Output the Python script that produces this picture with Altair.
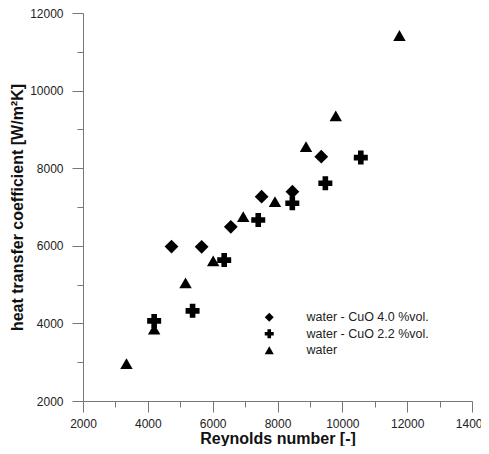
import altair as alt
import pandas as pd

series_names = ["water - CuO 4.0 %vol.", "water - CuO 2.2 %vol.", "water"]
series_shapes = ["diamond", "cross", "triangle-up"]
series_sizes = [190, 196, 155]

cuo40_re = [4730, 5660, 6560, 7510, 8460, 9350]
cuo40_h = [5980, 5975, 6490, 7266, 7395, 8298]

cuo22_re = [4195, 5380, 6356, 7406, 8457, 9476, 10570]
cuo22_h = [4065, 4323, 5632, 6664, 7095, 7612, 8273]

water_re = [3341, 4195, 5163, 6016, 6943, 7922, 8880, 9797, 11762]
water_h = [2965, 3851, 5046, 5614, 6750, 7137, 8557, 9349, 11420]

x_ticks = list(range(2000, 14001, 1000))
y_ticks = list(range(2000, 12001, 1000))

rows = []
for name, xs, ys in zip(series_names, [cuo40_re, cuo22_re, water_re], [cuo40_h, cuo22_h, water_h]):
    for a, b in zip(xs, ys):
        rows.append({"series": name, "re": a, "h": b})
df = pd.DataFrame(rows)

FONT = "Liberation Sans"
AXIS_COLOR = "#777777"
MAJOR = {"condition": {"test": "datum.value % 2000 === 0", "value": 11}, "value": 6}

x_axis = alt.Axis(
    values=x_ticks,
    format="d",
    labelExpr="datum.value % 2000 === 0 ? datum.label : ''",
    grid=False,
    domainColor=AXIS_COLOR,
    tickColor=AXIS_COLOR,
    tickSize=MAJOR,
    labelPadding=6,
    labelFont=FONT,
    labelFontSize=12,
    labelColor="#222222",
    labelFlush=False,
    title="Reynolds number [-]",
    titleFont=FONT,
    titleFontSize=16,
    titleFontWeight="bold",
    titleColor="#111111",
    titlePadding=1,
)

y_axis = alt.Axis(
    values=y_ticks,
    format="d",
    labelExpr="datum.value % 2000 === 0 ? datum.label : ''",
    grid=False,
    domainColor=AXIS_COLOR,
    tickColor=AXIS_COLOR,
    tickSize=MAJOR,
    labelPadding=9,
    labelFont=FONT,
    labelFontSize=12,
    labelColor="#222222",
    labelFlush=False,
    title="heat transfer coefficient [W/m²K]",
    titleFont=FONT,
    titleFontSize=16,
    titleFontWeight="bold",
    titleColor="#111111",
    titlePadding=4,
)

legend = alt.Legend(
    title=None,
    orient="none",
    legendX=180,
    legendY=298,
    labelFont=FONT,
    labelFontSize=12.5,
    labelColor="#222222",
    labelOffset=31,
    rowPadding=3.5,
    symbolSize=81,
    symbolFillColor="black",
    symbolStrokeWidth=0,
    padding=0,
)

base = alt.Chart(df)
layers = []
for name, size in zip(series_names, series_sizes):
    layers.append(
        base.transform_filter(alt.datum.series == name)
        .mark_point(filled=True, opacity=1, color="black", strokeWidth=0, size=size)
        .encode(
            x=alt.X("re:Q", scale=alt.Scale(domain=[2000, 14000], nice=False, zero=False), axis=x_axis),
            y=alt.Y("h:Q", scale=alt.Scale(domain=[2000, 12000], nice=False, zero=False), axis=y_axis),
            shape=alt.Shape(
                "series:N",
                scale=alt.Scale(domain=series_names, range=series_shapes),
                legend=legend,
            ),
        )
    )

chart = alt.layer(*layers).properties(
    width=389,
    height=388,
    autosize=alt.AutoSizeParams(type="none"),
    padding={"left": 75, "top": 5, "right": 9, "bottom": 45},
).configure_view(stroke=None)

chart.save("out.html", embed_options={"renderer": "svg", "actions": False})
